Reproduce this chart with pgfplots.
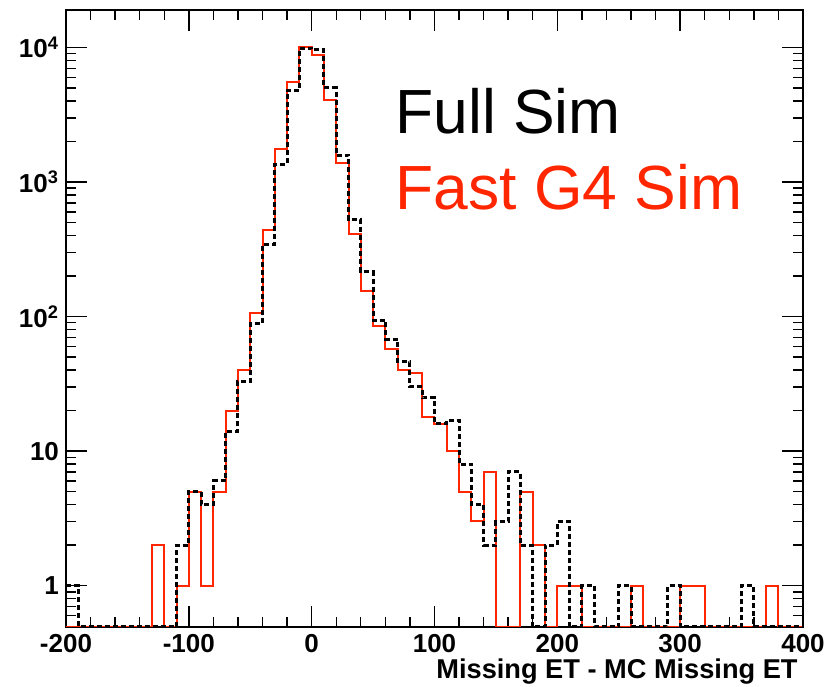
\documentclass[border=0pt]{standalone}
\usepackage{fontspec}
\setmainfont{Liberation Sans}
\usepackage{pgfplots}
\pgfplotsset{compat=1.18}
\definecolor{rootred}{RGB}{255,38,0}
\begin{document}
\begin{tikzpicture}
\path[use as bounding box] (-33pt,-30pt) rectangle (383pt,313.5pt);
\begin{axis}[
  scale only axis, width=368.5pt, height=308.5pt,
  at={(0pt,0pt)}, anchor=south west,
  xmin=-200, xmax=400,
  ymode=log, ymin=0.493, ymax=19000,
  xtick={-200,-100,0,100,200,300,400},
  xticklabels={-200,-100,0,100,200,300,400},
  minor x tick num=4,
  ytick={1,10,100,1000,10000},
  yticklabels={1,10,10\textsuperscript{2},10\textsuperscript{3},10\textsuperscript{4}},
  minor ytick={0.6,0.7,0.8,0.9,2,3,4,5,6,7,8,9,20,30,40,50,60,70,80,90,200,300,400,500,600,700,800,900,2000,3000,4000,5000,6000,7000,8000,9000},
  tick align=inside,
  xtick pos=both, ytick pos=both,
  major tick length=10.5pt, minor tick length=5pt,
  tick style={black, line width=0.7pt},
  axis line style={line width=1pt},
  ticklabel style={font=\bfseries\fontsize{13}{15}\selectfont},
  xlabel={Missing ET - MC Missing ET},
  xlabel style={at={(axis description cs:0.9932,-0.0827)}, anchor=base east, inner sep=0pt, font=\bfseries\fontsize{13.6}{16}\selectfont},
]
% Fast G4 Sim (red)
\addplot[const plot, rootred, line width=1pt] table {
x y
-200 0.493
-190 0.493
-180 0.493
-170 0.493
-160 0.493
-150 0.493
-140 0.493
-130 2
-120 0.493
-110 1
-100 5
-90 1
-80 5
-70 20
-60 40
-50 106
-40 441
-30 1757
-20 5495
-10 10000
0 8830
10 4080
20 1396
30 410
40 156
50 85
60 57
70 40
80 38
90 18
100 16
110 10
120 5
130 3
140 7
150 0.493
160 0.493
170 5
180 2
190 0.493
200 1
210 1
220 0.493
230 0.493
240 0.493
250 0.493
260 1
270 0.493
280 0.493
290 0.493
300 1
310 1
320 0.493
330 0.493
340 0.493
350 0.493
360 0.493
370 1
380 0.493
390 0.493
400 0.493
};
% Full Sim (black dotted)
\addplot[const plot, black, line width=1.5pt, dash pattern=on 2.5pt off 1.5pt] table {
x y
-200 1
-190 0.493
-180 0.493
-170 0.493
-160 0.493
-150 0.493
-140 0.493
-130 0.493
-120 0.493
-110 2
-100 5
-90 4
-80 6
-70 14
-60 33
-50 89
-40 345
-30 1343
-20 4790
-10 9900
0 9610
10 5040
20 1585
30 524
40 216
50 94
60 68
70 46
80 30
90 25
100 16
110 17
120 8
130 4
140 2
150 3
160 7
170 2
180 0.493
190 2
200 3
210 0.493
220 1
230 0.493
240 0.493
250 1
260 0.493
270 0.493
280 0.493
290 1
300 0.493
310 0.493
320 0.493
330 0.493
340 0.493
350 1
360 0.493
370 0.493
380 0.493
390 0.493
400 0.493
};
\node[anchor=base west, inner sep=0pt, font=\fontsize{31.2}{36}\selectfont] at (axis description cs:0.4464,0.8002) {Full Sim};
\node[anchor=base west, inner sep=0pt, text=rootred, font=\fontsize{31.2}{36}\selectfont] at (axis description cs:0.4464,0.677) {Fast G4 Sim};
\end{axis}
\end{tikzpicture}
\end{document}
